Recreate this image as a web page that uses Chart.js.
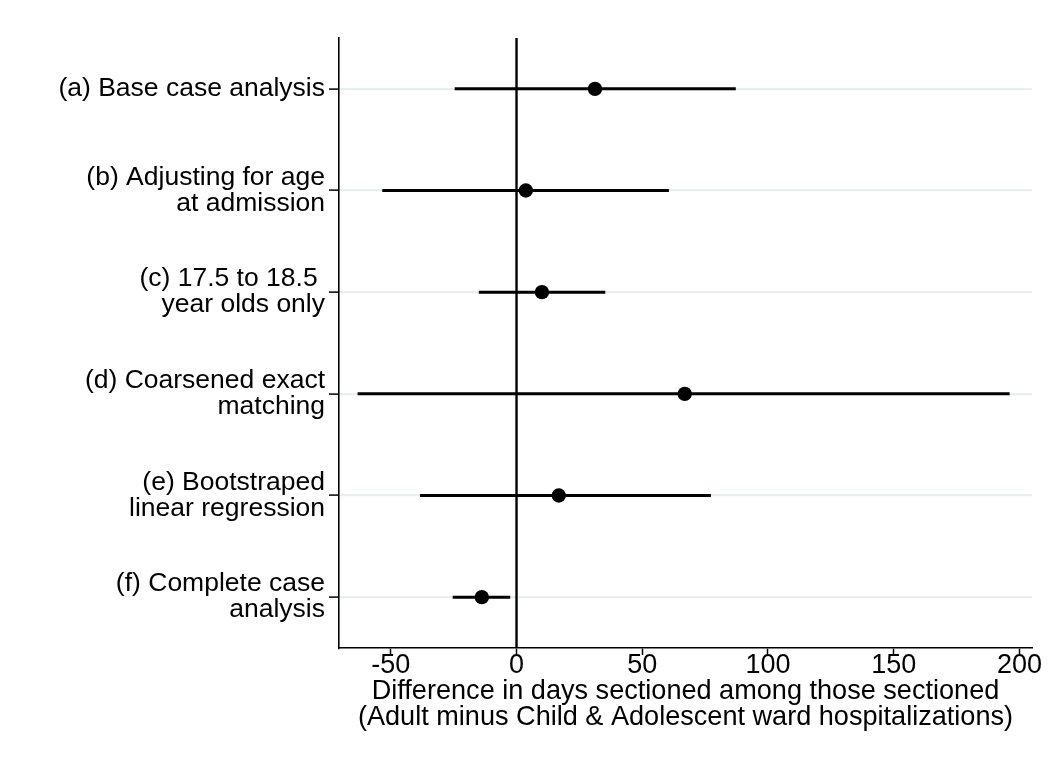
<!DOCTYPE html>
<html>
<head>
<meta charset="utf-8">
<title>Sensitivity analyses</title>
<script src="https://cdn.jsdelivr.net/npm/chart.js@4/dist/chart.umd.min.js"></script>
<style>
  html, body { margin: 0; padding: 0; background: #fff; }
  #wrap { width: 1048px; height: 772px; }
</style>
</head>
<body>
<div id="wrap"><canvas id="c" width="1048" height="772"></canvas></div>
<script>
// Analyses (top to bottom), one label array per row (each entry is a line)
const analyses = [
  ['(a) Base case analysis'],
  ['(b) Adjusting for age', 'at admission'],
  ['(c) 17.5 to 18.5 ', 'year olds only'],
  ['(d) Coarsened exact', 'matching'],
  ['(e) Bootstraped', 'linear regression'],
  ['(f) Complete case', 'analysis']
];
// Point estimates and 95% confidence limits (days)
const estimate = [31.2, 3.7, 10.1, 66.9, 16.8, -13.8];
const lowerCI  = [-24.6, -53.4, -15.0, -63.2, -38.4, -25.4];
const upperCI  = [87.2, 60.6, 35.3, 196.1, 77.3, -2.5];
// Axis ticks
const xTicks = [-50, 0, 50, 100, 150, 200];
const rowIds = [1, 2, 3, 4, 5, 6];
const referenceValue = 0;

const FAMILY = 'Liberation Sans, Arial, Helvetica, sans-serif';

const estimateSet = {
  label: 'Estimate',
  data: estimate.map((v, i) => ({ x: v, y: rowIds[i] })),
  showLine: false,
  pointRadius: 7.2,
  pointHoverRadius: 7.2,
  pointBackgroundColor: '#000',
  pointBorderColor: '#000',
  pointBorderWidth: 0,
  order: 0
};

const ciSets = rowIds.map((r, i) => ({
  label: 'CI ' + r,
  data: [{ x: lowerCI[i], y: r }, { x: upperCI[i], y: r }],
  showLine: true,
  borderColor: '#000',
  borderWidth: 3,
  pointRadius: 0,
  pointHoverRadius: 0,
  order: 1
}));

const refSet = {
  label: 'No difference',
  data: [{ x: referenceValue, y: 0.5 }, { x: referenceValue, y: 6.5 }],
  showLine: true,
  borderColor: '#000',
  borderWidth: 2.4,
  pointRadius: 0,
  pointHoverRadius: 0,
  order: 2
};

new Chart(document.getElementById('c'), {
  type: 'scatter',
  data: { datasets: [estimateSet, ...ciSets, refSet] },
  options: {
    responsive: false,
    animation: false,
    devicePixelRatio: 1,
    layout: { padding: { top: 38, right: 16, left: 0, bottom: 0 } },
    plugins: { legend: { display: false }, tooltip: { enabled: false } },
    scales: {
      x: {
        type: 'linear',
        min: -70.6,
        max: 205,
        afterBuildTicks: (s) => { s.ticks = xTicks.map(v => ({ value: v })); },
        afterFit: (s) => { s.height = 124; },
        border: { display: true, color: '#000', width: 1.6 },
        grid: {
          drawOnChartArea: false,
          drawTicks: true,
          tickLength: 7,
          tickColor: '#000',
          tickWidth: 1.5
        },
        ticks: {
          color: '#000',
          font: { family: FAMILY, size: 27 },
          padding: -6,
          maxRotation: 0,
          autoSkip: false,
          callback: (v) => String(v)
        },
        title: {
          display: true,
          text: ['Difference in days sectioned among those sectioned',
                 '(Adult minus Child & Adolescent ward hospitalizations)'],
          color: '#000',
          font: { family: FAMILY, size: 27.1, lineHeight: 0.96 },
          padding: { top: 0, bottom: 41 }
        }
      },
      y: {
        type: 'linear',
        min: 0.5,
        max: 6.5,
        reverse: true,
        afterBuildTicks: (s) => { s.ticks = rowIds.map(v => ({ value: v })); },
        afterFit: (s) => { s.width = 339; },
        border: { display: true, color: '#000', width: 1.6 },
        grid: {
          color: '#e7eef0',
          lineWidth: 2.2,
          drawTicks: true,
          tickLength: 10,
          tickColor: '#000',
          tickWidth: 1.5
        },
        ticks: {
          color: '#000',
          font: { family: FAMILY, size: 26.5, lineHeight: 0.98 },
          padding: 4,
          autoSkip: false,
          callback: (v) => analyses[v - 1]
        }
      }
    }
  }
});
</script>
</body>
</html>
